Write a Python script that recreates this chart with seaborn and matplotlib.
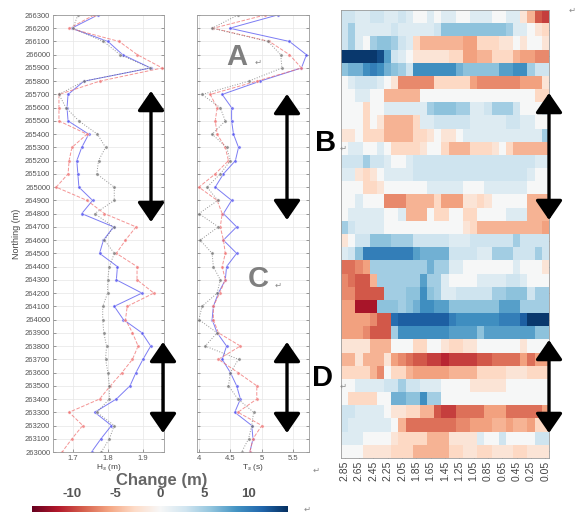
import numpy as np
import pandas as pd
import matplotlib
matplotlib.use('Agg')
import matplotlib.pyplot as plt
import seaborn as sns

# --- data (top row = 266300, bottom row = 263000) ---
northing = [266300, 266200, 266100, 266000, 265900, 265800, 265700, 265600, 265500,
            265400, 265300, 265200, 265100, 265000, 264900, 264800, 264700, 264600,
            264500, 264400, 264300, 264200, 264100, 264000, 263900, 263800, 263700,
            263600, 263500, 263400, 263300, 263200, 263100, 263000]

hs_blue = [1.771, 1.696, 1.800, 1.842, 1.922, 1.731, 1.686, 1.683, 1.686, 1.745, 1.725, 1.711,
           1.714, 1.717, 1.756, 1.725, 1.816, 1.787, 1.776, 1.827, 1.824, 1.897, 1.818, 1.844,
           1.897, 1.922, 1.900, 1.880, 1.863, 1.824, 1.762, 1.810, 1.780, 1.753]
hs_red = [1.760, 1.690, 1.832, 1.884, 1.955, 1.776, 1.660, 1.660, 1.660, 1.740, 1.697, 1.689,
          1.686, 1.652, 1.740, 1.790, 1.880, 1.850, 1.824, 1.883, 1.883, 1.931, 1.855, 1.850,
          1.870, 1.886, 1.870, 1.840, 1.807, 1.776, 1.689, 1.728, 1.697, 1.669]
hs_black = [1.714, 1.700, 1.787, 1.835, 1.920, 1.731, 1.660, 1.680, 1.717, 1.770, 1.793, 1.773,
            1.768, 1.818, 1.818, 1.762, 1.816, 1.790, 1.818, 1.804, 1.799, 1.799, 1.785, 1.785,
            1.788, 1.796, 1.793, 1.800, 1.804, 1.804, 1.768, 1.818, 1.804, 1.781]

ts_blue = [5.25, 4.49, 5.44, 5.71, 5.63, 4.97, 4.37, 4.52, 4.52, 4.55, 4.63, 4.58, 4.39, 4.26,
           4.52, 4.39, 4.60, 4.39, 4.60, 4.44, 4.42, 4.31, 4.23, 4.21, 4.29, 4.44, 4.37, 4.50,
           4.60, 4.66, 4.57, 4.84, 4.86, 4.81]
ts_red = [5.05, 4.23, 5.12, 5.44, 5.63, 4.92, 4.18, 4.29, 4.26, 4.29, 4.42, 4.47, 4.26, 4.00,
          4.29, 4.37, 4.34, 4.39, 4.42, 4.37, 4.42, 4.33, 4.23, 4.23, 4.31, 4.66, 4.31, 4.62,
          4.92, 4.92, 4.62, 5.00, 4.86, 4.81]
ts_black = [4.62, 4.21, 5.10, 5.30, 5.32, 4.79, 4.05, 4.34, 4.42, 4.21, 4.44, 4.50, 4.34, 4.13,
            4.30, 4.00, 4.31, 4.02, 4.21, 4.23, 4.34, 4.29, 4.05, 4.00, 4.29, 4.10, 4.63, 4.50,
            4.47, 4.62, 4.87, 4.84, 4.79, 4.68]

heat_cols = ['2.85', '2.75', '2.65', '2.55', '2.45', '2.35', '2.25', '2.15', '2.05', '1.95',
             '1.85', '1.75', '1.65', '1.55', '1.45', '1.35', '1.25', '1.15', '1.05', '0.95',
             '0.85', '0.75', '0.65', '0.55', '0.45', '0.35', '0.25', '0.15', '0.05']

# change (m), one row per northing, one column per heat_cols entry
change_grid = [
    [3, 3, 2, 2, 3, 3, 2, 2, 3, 2, 0, 0, 2, 0, 2, 2, 0, 0, 2, 2, 2, 0, 0, 2, 2, -2, -5, -9, -10],
    [3, 5, 2, 2, 2, 2, 2, 3, 2, 2, 2, 2, 2, 3, 6, 6, 6, 6, 6, 6, 6, 6, 6, 5, 2, 2, 0, -2, -3],
    [3, 5, 2, 0, 5, 6, 6, 5, 3, 2, -3, -5, -5, -5, -5, -5, -5, -6, -6, -3, -3, -3, -2, -2, 0, -2, 0, 0, -2],
    [14, 14, 14, 14, 14, 13, 8, 3, 2, 0, -2, -2, -2, -2, -2, -3, -3, -6, -6, -5, -5, -3, -3, -3, -5, -6, -6, -7, -7],
    [6, 7, 7, 9, 10, 9, 7, 6, 5, 3, 9, 9, 9, 9, 9, 9, 7, 6, 6, 6, 6, 6, 8, 8, 9, 9, 5, 3, 3],
    [0, 2, 3, 3, 3, 2, 0, -2, -7, -7, -7, -7, -7, -3, -3, -3, -3, -3, -6, -7, -7, -7, -7, -7, -7, -6, -6, -6, -2],
    [0, 0, 2, 2, 0, 0, -5, -5, -5, -5, -5, 0, 0, 0, 0, 0, 0, 0, 0, 0, 0, 0, 0, 0, 0, 0, 0, -3, -3],
    [0, 0, 0, -3, 0, 0, 2, 2, 2, 2, 2, 2, 5, 6, 6, 6, 5, 5, 2, 2, 3, 5, 5, 5, 3, 0, 0, 0, 2],
    [0, 0, 0, -3, 0, -2, -5, -5, -5, -5, -3, 2, 2, 3, 3, 3, 3, 3, 2, 2, 2, 2, 2, 3, 3, 2, 2, 0, 0],
    [-2, -2, 0, -3, -3, -3, -5, -5, -5, -5, -3, -3, -2, 0, -2, -2, 0, 2, 2, 2, 2, 2, 2, 2, 2, 2, 2, 2, 5],
    [0, 2, 2, 0, 0, 2, 0, -3, -3, -3, -3, -2, 0, 0, -3, -5, -5, -5, -3, -3, -3, -2, 0, -3, -5, -5, -5, -5, -5],
    [3, 3, 3, 5, 3, 3, 2, 0, 0, 2, 3, 3, 3, 3, 3, 3, 3, 3, 3, 3, 3, 3, 3, 3, 3, 3, 3, 2, 2],
    [2, 2, -2, -3, -2, 0, 2, 2, 2, 2, 3, 3, 3, 3, 3, 3, 3, 3, 3, 3, 3, 3, 3, 3, 3, 3, 2, 0, 0],
    [0, 0, 0, -3, -3, -2, 0, 0, 0, 0, 0, 0, 2, 2, 2, 2, 2, 0, 0, 0, 2, 2, 2, 2, 2, 2, 0, 0, 0],
    [0, 0, 2, 0, 0, 0, -7, -7, -7, -5, -5, -5, -5, -3, -6, -6, -6, -2, -2, -3, -2, 0, 0, 0, 0, 0, -5, -5, -5],
    [0, 2, 2, 2, 2, 2, 0, 0, 2, -5, -5, -5, 0, -3, -3, 0, 0, -3, -3, 0, 0, 0, 0, 2, 2, 2, -5, -5, -5],
    [5, 3, 2, 2, 2, 2, 0, 0, 0, 0, 0, 0, 0, 0, 0, 0, 0, -2, -3, -5, -5, -5, -5, -5, -5, -5, -5, -5, -6],
    [-2, 0, 3, 3, 6, 6, 6, 5, 5, 5, 3, 3, 3, 3, 3, 2, 2, 2, 3, 3, 3, 3, 3, 3, 5, 3, 3, 3, 3],
    [2, 3, 6, 10, 10, 10, 10, 10, 10, 10, 8, 7, 7, 7, 7, 3, 3, 3, 3, 2, 2, 5, 5, 5, 3, 3, 3, 5, 3],
    [-8, -8, -7, -6, 5, 5, 5, 5, 5, 5, 5, 5, 7, 5, 5, 2, 2, 0, 0, 0, 0, 0, 0, 0, 2, 0, 0, 0, -2],
    [-7, -8, -9, -9, -5, 5, 5, 5, 5, 5, 5, 8, 5, 5, 2, 0, 0, 0, 0, 2, 2, 2, 2, 3, 3, 2, 0, 0, 0],
    [-7, -7, -9, -9, -9, -9, 5, 5, 5, 6, 6, 9, 6, 5, 2, 2, 3, 3, 3, 3, 3, 5, 5, 6, 6, 6, 3, 5, 5],
    [-6, -6, -12, -12, -12, 6, 6, 6, 5, 6, 7, 9, 9, 8, 8, 6, 6, 6, 6, 6, 6, 6, 8, 8, 8, 5, 5, 5, 5],
    [-6, -6, -6, -6, -7, -9, -9, 11, 12, 12, 12, 12, 12, 12, 12, 10, 9, 9, 9, 9, 9, 9, 10, 10, 10, 12, 14, 14, 14],
    [-6, -6, -6, -7, -9, -9, -9, 5, 9, 9, 9, 9, 9, 9, 9, 8, 8, 8, 8, 6, 8, 8, 8, 8, 8, 8, 8, 6, 6],
    [-2, -2, -2, -2, -5, -5, -5, 0, 0, 0, -3, -3, 0, 0, -2, -3, -3, -2, -2, 0, 0, 0, 0, 0, 0, -2, 0, 0, 0],
    [-5, -5, -2, -5, -5, -5, -2, -6, -7, -8, -9, -9, -10, -10, -11, -10, -10, -10, -10, -9, -9, -8, -8, -8, -8, -6, -8, -6, -6],
    [-3, -3, -3, -3, -5, -7, 0, -3, -3, -5, -6, -6, -6, -6, -6, -5, -5, -5, -5, -3, -3, -3, -3, -2, -2, -2, -3, -3, -3],
    [0, 0, 2, 2, 2, 2, 3, 3, 5, 3, 3, 2, 2, 2, 0, 0, 0, 0, -2, -2, -2, -2, -2, 0, 0, 0, 0, 0, 0],
    [0, -3, -3, -3, -3, 0, 0, 7, 7, 6, 6, 9, 5, 5, 0, 0, 0, 0, 0, 0, 0, 0, 0, 0, 0, 0, 0, 0, 0],
    [3, 3, 2, 2, 2, 2, 0, -2, -2, -3, -3, -5, -5, -9, -10, -10, -8, -8, -8, -8, -6, -6, -6, -8, -8, -8, -8, -8, -6],
    [3, 2, 2, 2, 2, 2, 2, 0, -5, -8, -8, -8, -8, -8, -8, -8, -7, -7, -6, -6, -6, -5, -5, -6, -5, -5, -6, -3, -3],
    [2, 2, 2, 0, 0, 0, 0, -2, -3, -3, -3, -3, -5, -5, -5, -2, -2, -2, -2, 2, 0, 0, 3, 0, 0, 0, 0, 3, 3],
    [0, 0, 0, -2, -2, -2, -2, -3, -3, -3, -5, -5, -5, -5, -5, -3, -3, -2, -2, -3, -3, -2, -2, -2, -3, -3, -2, -2, -2],
]
cbar_ticks = [-10, -5, 0, 5, 10]

W, H = 577, 514


def fig_rect(x0, y0, x1, y1):
    # pixel box (top-left origin) -> figure fraction rect
    return [x0 / W, 1 - y1 / H, (x1 - x0) / W, (y1 - y0) / H]


sns.set_style('ticks')
plt.rcParams['font.family'] = ['Liberation Sans', 'DejaVu Sans']
plt.rcParams['axes.unicode_minus'] = False

fig = plt.figure(figsize=(W / 100, H / 100), dpi=100)
ax1 = fig.add_axes(fig_rect(53, 15, 164, 452))
ax2 = fig.add_axes(fig_rect(197, 15, 309, 452))
ax3 = fig.add_axes(fig_rect(341, 10, 549, 458))
cax = fig.add_axes(fig_rect(32, 506, 288, 512))

# ---- line panels ----
styles = [
    dict(color='#5050f0', linestyle='-', marker='o'),
    dict(color='#f07070', linestyle='--', marker='o'),
    dict(color='#707070', linestyle=':', marker='o'),
]
for ax, series in [(ax1, [hs_blue, hs_red, hs_black]), (ax2, [ts_blue, ts_red, ts_black])]:
    for vals, st in zip(series, styles):
        sns.lineplot(x=vals, y=northing, orient='y', sort=False, estimator=None, ax=ax,
                     lw=0.7, markersize=2.4, markeredgewidth=0.4, alpha=0.75,
                     legend=False, **st)
    ax.set_ylim(263000, 266300)
    ax.set_yticks(northing)
    ax.grid(True, color='#e6e6e6', lw=0.5)
    ax.tick_params(direction='in', length=2, width=0.4, left=True, right=True,
                   labelsize=5.5, colors='#555555', pad=2)
    for sp in ax.spines.values():
        sp.set_color('#9a9a9a')
        sp.set_linewidth(0.6)

ax1.set_xlim(1.643, 1.96)
ax1.set_xticks([1.7, 1.8, 1.9])
ax1.set_yticklabels([str(v) for v in northing])
ax1.set_ylabel('Northing (m)', fontsize=6.5, color='#444444', labelpad=3)
ax1.set_xlabel('H$_s$ (m)', fontsize=6, color='#444444', labelpad=0)

ax2.set_xlim(3.97, 5.75)
ax2.set_xticks([4, 4.5, 5, 5.5])
ax2.set_xticklabels(['4', '4.5', '5', '5.5'])
ax2.set_yticklabels([])
ax2.set_xlabel('T$_s$ (s)', fontsize=6, color='#444444', labelpad=0)

# ---- heatmap ----
grid_df = pd.DataFrame(change_grid, index=northing, columns=heat_cols)
sns.heatmap(grid_df, ax=ax3, cmap='RdBu', vmin=-14.5, vmax=14.5, cbar_ax=cax,
            cbar_kws={'orientation': 'horizontal'}, xticklabels=False, yticklabels=False)
ax3.set_xticks(np.arange(0, len(heat_cols), 2) + 0.5)
ax3.set_xticklabels(heat_cols[::2], rotation=90)
ax3.set_yticks(np.arange(1, len(northing), 2) + 0.5)
ax3.set_yticklabels([])
ax3.set_xlabel('')
ax3.set_ylabel('')
ax3.tick_params(direction='in', length=2, width=0.4, top=True, bottom=True, left=True,
                right=True, labelsize=7.5, colors='#444444', pad=2)
for sp in ax3.spines.values():
    sp.set_visible(True)
    sp.set_color('#9a9a9a')
    sp.set_linewidth(0.6)

cb = ax3.collections[0].colorbar
cb.set_ticks(cbar_ticks)
cb.outline.set_visible(False)
cax.xaxis.set_ticks_position('top')
cax.tick_params(length=0, labelsize=9.5, colors='#555555', pad=4)
for t in cax.get_xticklabels():
    t.set_fontweight('bold')
fig.text(162 / W, 1 - 481 / H, 'Change (m)', ha='center', va='center', fontsize=12,
         fontweight='bold', color='#666666')

# ---- overlay for letters and arrows ----
ov = fig.add_axes([0, 0, 1, 1], zorder=10)
ov.set_xlim(0, W)
ov.set_ylim(H, 0)
ov.axis('off')

for ch, x, y, c in [('A', 237, 57, '#7f7f7f'), ('B', 326, 143, 'black'),
                    ('C', 258, 279, '#7f7f7f'), ('D', 322, 378, 'black')]:
    ov.text(x, y, ch, ha='center', va='center', fontsize=21, fontweight='bold', color=c)

for x, y in [(572, 10), (278, 285), (343, 148), (316, 470), (307, 509), (343, 386), (258, 62)]:
    ov.text(x, y, '\u21b5', ha='center', va='center', fontsize=6, color='#8a8a8a',
            family=['DejaVu Sans'])

for x, y0, y1 in [(151, 91, 222), (163, 342, 433), (287, 94, 220),
                  (287, 342, 433), (549, 93, 220), (549, 340, 433)]:
    ov.annotate('', xy=(x, y1), xytext=(x, y0), annotation_clip=False,
                arrowprops=dict(arrowstyle='<|-|>,head_length=0.8,head_width=0.55',
                                color='black', lw=2.4, mutation_scale=15,
                                shrinkA=0, shrinkB=0))

fig.savefig('out.png', dpi=100)
